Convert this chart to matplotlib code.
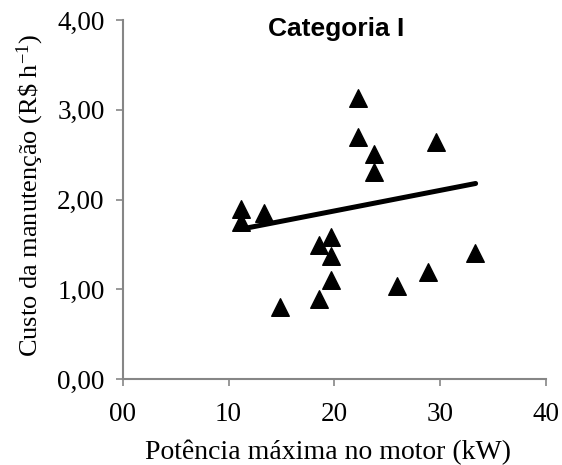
import matplotlib
matplotlib.use('Agg')
import matplotlib.pyplot as plt
from matplotlib.ticker import FixedLocator, FuncFormatter

plt.rcParams['mathtext.fontset'] = 'custom'
plt.rcParams['mathtext.rm'] = 'Liberation Serif'
plt.rcParams['mathtext.it'] = 'Liberation Serif'

# Potencia maxima no motor (kW) x custo de manutencao (R$/h), categoria I
potencia = [11.15, 11.15, 13.36, 14.87, 18.52, 18.52, 19.69, 19.69, 19.69,
            22.27, 22.2, 23.75, 23.75, 25.96, 28.89, 29.58, 33.3]
custo = [1.90, 1.75, 1.85, 0.80, 0.89, 1.50, 1.58, 1.37, 1.10,
         3.13, 2.70, 2.51, 2.31, 1.04, 1.19, 2.64, 1.41]

# linha de tendencia (extremos)
trend_x = [11.1, 33.35]
trend_y = [1.67, 2.18]

x_ticks = [0, 10, 20, 30, 40]
x_labels = ['00', '10', '20', '30', '40']
y_ticks = [0, 1, 2, 3, 4]

fig = plt.figure(figsize=(5.62, 4.65), dpi=100)
ax = fig.add_axes([0.2183, 0.1843, 0.7532, 0.7727])

ax.scatter(potencia, custo, marker='^', s=160, color='black', zorder=3)
ax.plot(trend_x, trend_y, color='black', linewidth=3.6, solid_capstyle='round', zorder=2)

ax.set_xlim(0, 40)
ax.set_ylim(0, 4)
ax.xaxis.set_major_locator(FixedLocator(x_ticks))
ax.set_xticklabels(x_labels)
ax.yaxis.set_major_locator(FixedLocator(y_ticks))
ax.yaxis.set_major_formatter(FuncFormatter(lambda v, p: f'{v:.2f}'.replace('.', ',')))

for side in ['top', 'right']:
    ax.spines[side].set_visible(False)
for side in ['left', 'bottom']:
    ax.spines[side].set_color('#868686')
    ax.spines[side].set_linewidth(1.5)

ax.tick_params(direction='out', length=5, width=1.2, color='#868686',
               labelsize=19.5, labelcolor='black')
ax.tick_params(axis='y', pad=8)
ax.tick_params(axis='x', pad=11)
for lbl in ax.get_xticklabels() + ax.get_yticklabels():
    lbl.set_family('Liberation Serif')

ax.set_xlabel('Potência máxima no motor (kW)', fontsize=20,
              family='Liberation Serif')
ax.xaxis.set_label_coords(0.485, -0.168)
ax.set_ylabel(r'Custo da manutenção (R\$ h$^{-1}$)', fontsize=19,
              family='Liberation Serif')
ax.yaxis.set_label_coords(-0.182, 0.513)

ax.text(0.505, 0.975, 'Categoria I', transform=ax.transAxes, fontsize=19,
        fontweight='bold', family='Liberation Sans', ha='center', va='center')

fig.savefig('out.png', dpi=100)
